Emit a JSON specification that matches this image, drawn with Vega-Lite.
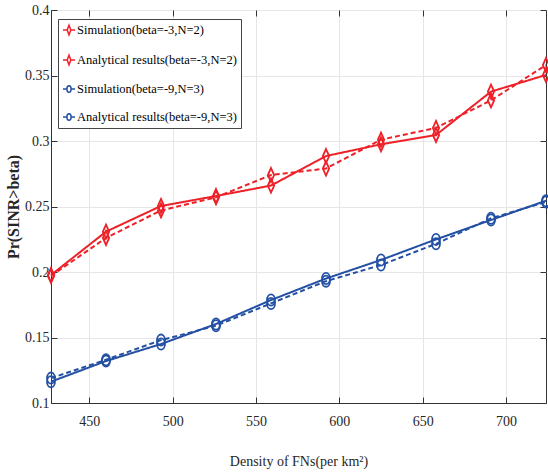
{
  "$schema": "https://vega.github.io/schema/vega-lite/v6.json",
  "autosize": "none",
  "width": 495,
  "height": 393,
  "padding": {"left": 51, "top": 10, "right": 2, "bottom": 72},
  "background": "white",
  "config": {
    "view": {"stroke": "#333333", "strokeWidth": 1},
    "font": "Liberation Serif"
  },
  "data": {
    "values": [
      {"density": 427, "prob": 0.1977, "series": "Analytical results(beta=-3,N=2)", "group": "red", "kind": "Analytical"},
      {"density": 460, "prob": 0.2308, "series": "Analytical results(beta=-3,N=2)", "group": "red", "kind": "Analytical"},
      {"density": 493, "prob": 0.2504, "series": "Analytical results(beta=-3,N=2)", "group": "red", "kind": "Analytical"},
      {"density": 526, "prob": 0.258, "series": "Analytical results(beta=-3,N=2)", "group": "red", "kind": "Analytical"},
      {"density": 559, "prob": 0.266, "series": "Analytical results(beta=-3,N=2)", "group": "red", "kind": "Analytical"},
      {"density": 592, "prob": 0.2885, "series": "Analytical results(beta=-3,N=2)", "group": "red", "kind": "Analytical"},
      {"density": 625, "prob": 0.2975, "series": "Analytical results(beta=-3,N=2)", "group": "red", "kind": "Analytical"},
      {"density": 658, "prob": 0.3046, "series": "Analytical results(beta=-3,N=2)", "group": "red", "kind": "Analytical"},
      {"density": 691, "prob": 0.3377, "series": "Analytical results(beta=-3,N=2)", "group": "red", "kind": "Analytical"},
      {"density": 724, "prob": 0.3504, "series": "Analytical results(beta=-3,N=2)", "group": "red", "kind": "Analytical"},
      {"density": 427, "prob": 0.197, "series": "Simulation(beta=-3,N=2)", "group": "red", "kind": "Simulation"},
      {"density": 460, "prob": 0.226, "series": "Simulation(beta=-3,N=2)", "group": "red", "kind": "Simulation"},
      {"density": 493, "prob": 0.247, "series": "Simulation(beta=-3,N=2)", "group": "red", "kind": "Simulation"},
      {"density": 526, "prob": 0.257, "series": "Simulation(beta=-3,N=2)", "group": "red", "kind": "Simulation"},
      {"density": 559, "prob": 0.274, "series": "Simulation(beta=-3,N=2)", "group": "red", "kind": "Simulation"},
      {"density": 592, "prob": 0.279, "series": "Simulation(beta=-3,N=2)", "group": "red", "kind": "Simulation"},
      {"density": 625, "prob": 0.301, "series": "Simulation(beta=-3,N=2)", "group": "red", "kind": "Simulation"},
      {"density": 658, "prob": 0.31, "series": "Simulation(beta=-3,N=2)", "group": "red", "kind": "Simulation"},
      {"density": 691, "prob": 0.331, "series": "Simulation(beta=-3,N=2)", "group": "red", "kind": "Simulation"},
      {"density": 724, "prob": 0.358, "series": "Simulation(beta=-3,N=2)", "group": "red", "kind": "Simulation"},
      {"density": 427, "prob": 0.1163, "series": "Analytical results(beta=-9,N=3)", "group": "blue", "kind": "Analytical"},
      {"density": 460, "prob": 0.132, "series": "Analytical results(beta=-9,N=3)", "group": "blue", "kind": "Analytical"},
      {"density": 493, "prob": 0.145, "series": "Analytical results(beta=-9,N=3)", "group": "blue", "kind": "Analytical"},
      {"density": 526, "prob": 0.1603, "series": "Analytical results(beta=-9,N=3)", "group": "blue", "kind": "Analytical"},
      {"density": 559, "prob": 0.1786, "series": "Analytical results(beta=-9,N=3)", "group": "blue", "kind": "Analytical"},
      {"density": 592, "prob": 0.195, "series": "Analytical results(beta=-9,N=3)", "group": "blue", "kind": "Analytical"},
      {"density": 625, "prob": 0.2092, "series": "Analytical results(beta=-9,N=3)", "group": "blue", "kind": "Analytical"},
      {"density": 658, "prob": 0.2249, "series": "Analytical results(beta=-9,N=3)", "group": "blue", "kind": "Analytical"},
      {"density": 691, "prob": 0.2397, "series": "Analytical results(beta=-9,N=3)", "group": "blue", "kind": "Analytical"},
      {"density": 724, "prob": 0.2544, "series": "Analytical results(beta=-9,N=3)", "group": "blue", "kind": "Analytical"},
      {"density": 427, "prob": 0.119, "series": "Simulation(beta=-9,N=3)", "group": "blue", "kind": "Simulation"},
      {"density": 460, "prob": 0.133, "series": "Simulation(beta=-9,N=3)", "group": "blue", "kind": "Simulation"},
      {"density": 493, "prob": 0.148, "series": "Simulation(beta=-9,N=3)", "group": "blue", "kind": "Simulation"},
      {"density": 526, "prob": 0.159, "series": "Simulation(beta=-9,N=3)", "group": "blue", "kind": "Simulation"},
      {"density": 559, "prob": 0.176, "series": "Simulation(beta=-9,N=3)", "group": "blue", "kind": "Simulation"},
      {"density": 592, "prob": 0.193, "series": "Simulation(beta=-9,N=3)", "group": "blue", "kind": "Simulation"},
      {"density": 625, "prob": 0.2053, "series": "Simulation(beta=-9,N=3)", "group": "blue", "kind": "Simulation"},
      {"density": 658, "prob": 0.2215, "series": "Simulation(beta=-9,N=3)", "group": "blue", "kind": "Simulation"},
      {"density": 691, "prob": 0.241, "series": "Simulation(beta=-9,N=3)", "group": "blue", "kind": "Simulation"},
      {"density": 724, "prob": 0.2535, "series": "Simulation(beta=-9,N=3)", "group": "blue", "kind": "Simulation"}
    ]
  },
  "layer": [
    {
      "mark": {"type": "line", "strokeWidth": 2},
      "encoding": {
        "x": {
          "field": "density", "type": "quantitative",
          "scale": {"domain": [427, 724], "nice": false, "zero": false},
          "axis": {
            "orient": "bottom", "values": [450, 500, 550, 600, 650, 700],
            "grid": true, "gridColor": "#e6e6e6", "gridWidth": 1,
            "tickSize": -6, "tickColor": "#333333", "domainColor": "#333333",
            "labelFont": "Liberation Serif", "labelFontSize": 14, "labelColor": "#262626", "labelPadding": 17,
            "title": "Density of FNs(per km²)", "titleFont": "Liberation Serif", "titleFontSize": 14,
            "titleFontWeight": "normal", "titleColor": "#262626", "titlePadding": 26
          }
        },
        "y": {
          "field": "prob", "type": "quantitative",
          "scale": {"domain": [0.1, 0.4], "nice": false, "zero": false},
          "axis": {
            "orient": "left", "values": [0.1, 0.15, 0.2, 0.25, 0.3, 0.35, 0.4], "format": "~g",
            "grid": true, "gridColor": "#e6e6e6", "gridWidth": 1,
            "tickSize": -6, "tickColor": "#333333", "domainColor": "#333333",
            "labelFont": "Liberation Serif", "labelFontSize": 14, "labelColor": "#262626", "labelPadding": 8,
            "title": "Pr(SINR>beta)", "titleFont": "Liberation Serif", "titleFontSize": 16,
            "titleFontWeight": "bold", "titleColor": "#262626", "titlePadding": 3
          }
        },
        "color": {
          "field": "series", "type": "nominal",
          "scale": {
            "domain": ["Simulation(beta=-3,N=2)", "Analytical results(beta=-3,N=2)", "Simulation(beta=-9,N=3)", "Analytical results(beta=-9,N=3)"],
            "range": ["#EE2028", "#EE2028", "#2450A4", "#2450A4"]
          },
          "legend": {
            "title": null, "orient": "none", "legendX": 7, "legendY": 9, "direction": "vertical",
            "strokeColor": "#444444", "fillColor": "white", "padding": 4,
            "labelFont": "Liberation Serif", "labelFontSize": 12.5, "labelColor": "black", "labelOffset": 1,
            "labelLimit": 400, "rowPadding": 14, "symbolSize": 144, "symbolStrokeWidth": 1.5,
            "encode": {
              "symbols": {
                "update": {
                  "shape": {"signal": "indexof(datum.value, '-3') >= 0 ? 'M-1,0L-0.3,0M0.3,0L1,0M0,-0.8L0.3,0L0,0.8L-0.3,0Z' : 'M-1,0L-0.35,0M0.35,0L1,0M0,-0.55A0.35,0.55,0,1,1,0,0.55A0.35,0.55,0,1,1,0,-0.55Z'"},
                  "fill": {"value": "transparent"},
                  "strokeDash": {"value": []},
                  "opacity": {"value": 1}
                }
              }
            }
          }
        },
        "strokeDash": {
          "field": "kind", "type": "nominal",
          "scale": {"domain": ["Simulation", "Analytical"], "range": [[5, 3], [1, 0]]},
          "legend": null
        }
      }
    },
    {
      "mark": {"type": "point", "filled": false, "strokeWidth": 1.8, "size": 196, "opacity": 1},
      "encoding": {
        "x": {
          "field": "density", "type": "quantitative",
          "axis": {
            "orient": "top", "values": [450, 500, 550, 600, 650, 700], "labels": false, "grid": false,
            "domain": false, "tickSize": -6, "tickColor": "#333333", "title": null
          }
        },
        "y": {
          "field": "prob", "type": "quantitative",
          "axis": {
            "orient": "right", "values": [0.1, 0.15, 0.2, 0.25, 0.3, 0.35, 0.4], "labels": false, "grid": false,
            "domain": false, "tickSize": -6, "tickColor": "#333333", "title": null
          }
        },
        "stroke": {
          "field": "series", "type": "nominal",
          "scale": {
            "domain": ["Simulation(beta=-3,N=2)", "Analytical results(beta=-3,N=2)", "Simulation(beta=-9,N=3)", "Analytical results(beta=-9,N=3)"],
            "range": ["#EE2028", "#EE2028", "#2450A4", "#2450A4"]
          },
          "legend": null
        },
        "shape": {
          "field": "group", "type": "nominal",
          "scale": {
            "domain": ["red", "blue"],
            "range": ["M0,-1L0.45,0L0,1L-0.45,0Z", "M0,-0.8A0.57,0.8,0,1,1,0,0.8A0.57,0.8,0,1,1,0,-0.8Z"]
          },
          "legend": null
        }
      }
    }
  ]
}
